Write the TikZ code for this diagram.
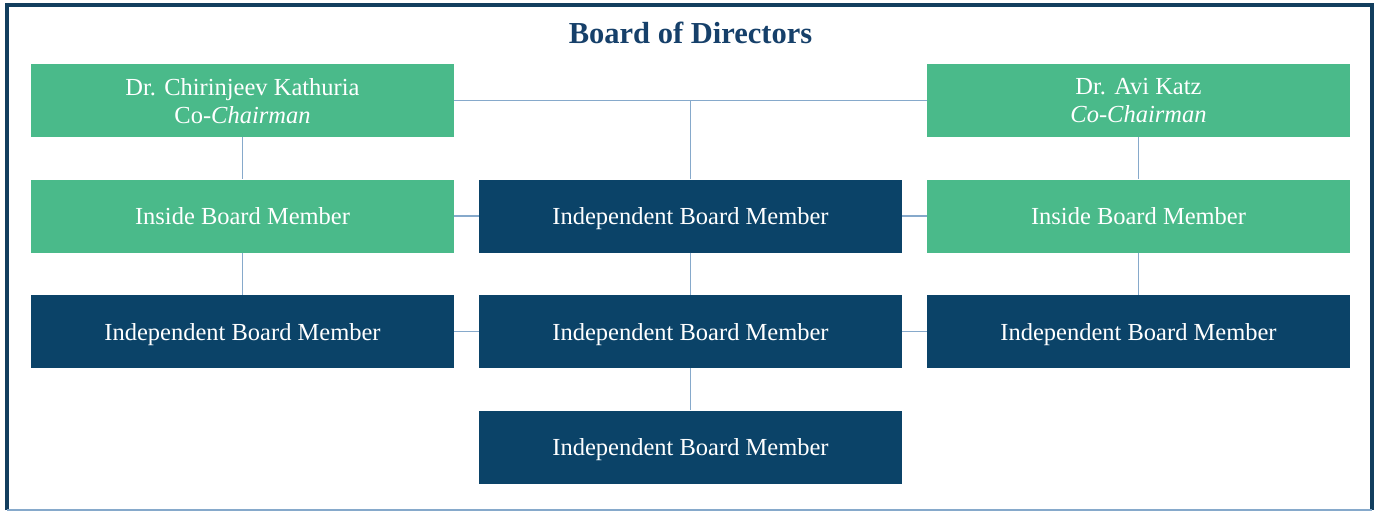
\documentclass[tikz,border=0pt]{standalone}
\usepackage{fontspec}
\setmainfont{Liberation Serif}
\definecolor{grn}{HTML}{4ABA8A}
\definecolor{navy}{HTML}{0B4368}
\definecolor{conn}{HTML}{86A9CB}
\definecolor{titlec}{HTML}{16406A}
\definecolor{frame}{HTML}{123E5E}
\begin{document}
\begin{tikzpicture}[x=1pt,y=-1pt,
  box/.style={minimum width=423pt, minimum height=73pt, inner sep=0pt, text=white,
    font=\fontsize{24.5}{28}\selectfont, align=center, anchor=center, text depth=0pt},
  gbox/.style={box, fill=grn},
  nbox/.style={box, fill=navy},
  link/.style={draw=conn, line width=1.5pt}]
\useasboundingbox (0,0) rectangle (1378,512);
\fill[white] (0,0) rectangle (1378,512);
% frame
\draw[frame, line width=3.5pt] (7,510) -- (7,5) -- (1372,5) -- (1372,510);
\draw[conn, line width=1.5pt] (7,510) -- (1372,510);
% title
\node[text=titlec, font=\fontsize{30.5}{34}\selectfont\bfseries] (title) at (690.5,33) {Board of Directors};
% nodes
\node[gbox] (c1) at (242.5,100.5) {Dr. Chirinjeev Kathuria\\Co-\textit{Chairman}};
\node[gbox] (c2) at (1138.5,100.5) {Dr. Avi Katz\\\textit{Co-Chairman}};
\node[gbox] (l2) at (242.5,216) {Inside Board Member};
\node[nbox] (m2) at (690.5,216) {Independent Board Member};
\node[gbox] (r2) at (1138.5,216) {Inside Board Member};
\node[nbox] (l3) at (242.5,331.5) {Independent Board Member};
\node[nbox] (m3) at (690.5,331.5) {Independent Board Member};
\node[nbox] (r3) at (1138.5,331.5) {Independent Board Member};
\node[nbox] (m4) at (690.5,447) {Independent Board Member};
% connectors
\draw[link] (c1.east) -- (c2.west);
\draw[link] (m2.north) -- (m2.north |- c1.east);
\draw[link] (c1.south) -- (l2.north);
\draw[link] (l2.south) -- (l3.north);
\draw[link] (c2.south) -- (r2.north);
\draw[link] (r2.south) -- (r3.north);
\draw[link] (l2.east) -- (m2.west);
\draw[link] (m2.east) -- (r2.west);
\draw[link] (l3.east) -- (m3.west);
\draw[link] (m3.east) -- (r3.west);
\draw[link] (m2.south) -- (m3.north);
\draw[link] (m3.south) -- (m4.north);
\end{tikzpicture}
\end{document}
